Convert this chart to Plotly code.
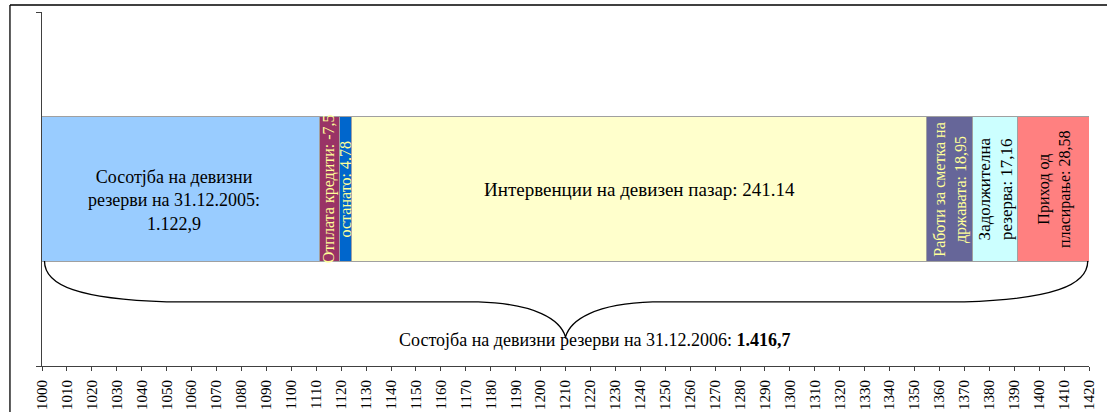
import plotly.graph_objects as go

# ---- data ----
segment_names = [
    "Сосотјба на девизни<br>резерви на 31.12.2005:<br>1.122,9",
    "Отплата кредити: -7,5",
    "останато: 4.78",
    "Интервенции на девизен пазар: 241.14",
    "Работи за сметка на<br>државата: 18,95",
    "Задолжителна<br>резерва: 17,16",
    "Приход од<br>пласирање: 28,58",
]
segment_values = [1111.2, 8.0, 5.0, 230.7, 18.5, 18.1, 28.9]
segment_colors = ["#99CCFF", "#993366", "#0066CC", "#FFFFCC", "#666699", "#CCFFFF", "#FF8080"]
label_colors = ["#000000", "#FFFF99", "#FFFF99", "#000000", "#FFFF99", "#000000", "#000000"]
label_angles = [0, -90, -90, 0, -90, -90, -90]
label_sizes = [18, 16, 16, 19, 16, 17, 16]
label_xshift = [-7, 0, 0, 0, 0, 0, 0]
label_yshift = [-11, 0, 0, 0, 0, 0, 0]
total_label = "Состојба на девизни резерви на 31.12.2006: <b>1.416,7</b>"
x_ticks = list(range(1000, 1421, 10))
x_min, x_max = 1000, 1420

FONT = "Liberation Serif, Times New Roman, serif"

fig = go.Figure()
bar_y = 0.5
bar_w = 0.407
for name, val, col in zip(segment_names, segment_values, segment_colors):
    fig.add_trace(go.Bar(
        y=[bar_y], x=[val], orientation="h", width=bar_w,
        marker=dict(color=col, line=dict(color="#A0A0A0", width=1)),
        name=name, showlegend=False, hoverinfo="skip",
    ))

# segment labels
start = 0.0
for name, val, lc, ang, sz, xs, ys in zip(segment_names, segment_values, label_colors,
                                          label_angles, label_sizes, label_xshift, label_yshift):
    end = start + val
    cx = (max(start, x_min) + end) / 2
    fig.add_annotation(
        x=cx, y=bar_y, xref="x", yref="y", text=name, showarrow=False,
        textangle=ang, font=dict(family=FONT, size=sz, color=lc),
        align="center", xshift=xs, yshift=ys,
    )
    start = end

# curly brace under the bar
yb = bar_y - bar_w / 2
yh = 0.181
ytip = 0.082
xm = (x_min + x_max) / 2
brace = (
    f"M {x_min+1},{yb} C {x_min+1},{yb-0.07} {x_min+15},{yh+0.008} {x_min+50},{yh} "
    f"L {xm-35},{yh} C {xm-12},{yh-0.005} {xm-2},{yh-0.05} {xm},{ytip} "
    f"C {xm+2},{yh-0.05} {xm+12},{yh-0.005} {xm+35},{yh} "
    f"L {x_max-50},{yh} C {x_max-15},{yh+0.008} {x_max-0.5},{yb-0.07} {x_max-0.5},{yb}"
)
fig.add_shape(type="path", path=brace, xref="x", yref="y",
              line=dict(color="black", width=1.3))

fig.add_annotation(x=xm + 12, y=0.073, xref="x", yref="y", text=total_label,
                   showarrow=False, font=dict(family=FONT, size=18, color="black"))

# chart-area frame (top and left edges)
fig.add_shape(type="line", xref="paper", yref="paper", x0=-0.0306, x1=1.02,
              y0=1.0198, y1=1.0198, line=dict(color="black", width=1.3))
fig.add_shape(type="line", xref="paper", yref="paper", x0=-0.0306, x1=-0.0306,
              y0=1.0198, y1=-0.2, line=dict(color="black", width=1.3))

fig.update_layout(
    width=1107, height=412,
    margin=dict(l=42, r=18, t=12, b=46),
    barmode="stack",
    plot_bgcolor="white", paper_bgcolor="white",
    font=dict(family=FONT, size=14, color="black"),
    xaxis=dict(
        range=[x_min, x_max], tickmode="array", tickvals=x_ticks,
        ticktext=[str(t) for t in x_ticks], tickangle=-90,
        ticks="outside", ticklen=4, tickcolor="#404040",
        showline=True, linecolor="#404040", linewidth=1,
        showgrid=False, zeroline=False, automargin=False,
        ticklabelstandoff=3,
        tickfont=dict(family=FONT, size=15, color="black"),
    ),
    yaxis=dict(
        range=[0, 1], tickmode="array", tickvals=[0, 1], showticklabels=False,
        ticks="outside", ticklen=5, tickcolor="#404040",
        showline=True, linecolor="#404040", linewidth=1,
        showgrid=False, zeroline=False, automargin=False,
    ),
)

fig.write_html("out.html", config={"displayModeBar": False},
               post_script="document.body.style.margin='0';document.body.style.overflow='hidden';")
